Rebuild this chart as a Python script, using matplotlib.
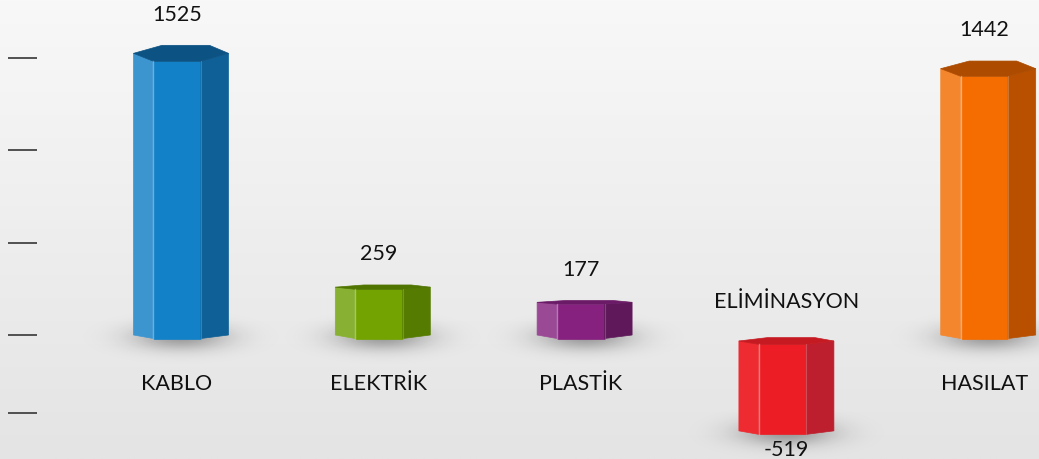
import numpy as np
import matplotlib
matplotlib.use("Agg")
import matplotlib.pyplot as plt
from matplotlib.patches import Polygon
from matplotlib.colors import to_rgb

# ---- data ----
categories = ["KABLO", "ELEKTRİK", "PLASTİK", "ELİMİNASYON", "HASILAT"]
values = [1525, 259, 177, -519, 1442]
value_labels = ["1525", "259", "177", "-519", "1442"]
ytick_values = [-420, 0, 500, 1000, 1500]

# ---- style ----
front_colors = ["#1281c7", "#72a300", "#86217f", "#ec1d25", "#f56c00"]
left_colors = ["#3d95d0", "#88b133", "#9a4a95", "#ee2b30", "#f4862e"]
right_colors = ["#0e6096", "#557b00", "#5f195b", "#bd1f2e", "#b85000"]
top_colors = ["#0c5283", "#4f7400", "#6a1a66", "#c61a22", "#ad4b00"]
FONT = "Lato"
FS = 15.5

W, H = 1039, 459
fig = plt.figure(figsize=(W / 100, H / 100), dpi=100)

# background gradient
bg = fig.add_axes([0, 0, 1, 1])
grad = np.linspace(0, 1, 256)[:, None]
c_top = np.array(to_rgb("#f8f8f8"))
c_bot = np.array(to_rgb("#e4e4e4"))
img = c_top[None, None, :] * (1 - grad[:, :, None]) + c_bot[None, None, :] * grad[:, :, None]
bg.imshow(np.repeat(img, 4, axis=1), aspect="auto", extent=[0, 1, 0, 1])
bg.set_axis_off()

left_px = 8
ax = fig.add_axes([left_px / W, 0, 1 - left_px / W, 1])
ax.patch.set_alpha(0)

px_per_unit_y = 0.1847
zero_px = 335
ymax = zero_px / px_per_unit_y
ymin = -(H - zero_px) / px_per_unit_y
x0_px, step_px = 181, 201.8
xmin = (left_px - x0_px) / step_px
xmax = (W - x0_px) / step_px
ax.set_xlim(xmin, xmax)
ax.set_ylim(ymin, ymax)

upx = 1 / px_per_unit_y          # data units per pixel (y)
xpx = 1 / step_px                # data units per pixel (x)
bw = 95 * xpx                    # bar width in x units
vmax = max(abs(v) for v in values)

# fractions across the bar width
f_fl, f_fr, f_bl, f_br = 0.21, 0.71, 0.30, 0.80

for i, v in enumerate(values):
    xl = i - bw / 2
    X = lambda f: xl + f * bw
    top = max(v, 0)
    bot = min(v, 0)
    if v < 0:
        top -= 6 * upx
    dt = (1 + 7 * abs(v) / vmax) * upx
    db = 3.5 * upx

    # shadow
    sx = np.linspace(-1, 1, 200)
    sy = np.linspace(-1, 1, 80)
    SX, SY = np.meshgrid(sx, sy)
    a = np.exp(-(SX ** 2) / (2 * 0.33 ** 2) - (SY ** 2) / (2 * 0.33 ** 2)) * 0.33
    shadow = np.zeros((80, 200, 4))
    shadow[..., 3] = a
    ycen = bot - 2 * upx
    ax.imshow(shadow, extent=[i - 100 * xpx, i + 100 * xpx, ycen - 28 * upx, ycen + 28 * upx],
              aspect="auto", zorder=1, interpolation="bilinear")

    # faces
    left_face = [(X(0), top), (X(f_fl), top - dt), (X(f_fl), bot - db), (X(0), bot)]
    front_face = [(X(f_fl), top - dt), (X(f_fr), top - dt), (X(f_fr), bot - db), (X(f_fl), bot - db)]
    right_face = [(X(f_fr), top - dt), (X(1), top), (X(1), bot), (X(f_fr), bot - db)]
    top_face = [(X(0), top), (X(f_fl), top - dt), (X(f_fr), top - dt), (X(1), top),
                (X(f_br), top + dt), (X(f_bl), top + dt)]
    for poly, col in [(left_face, left_colors[i]), (front_face, front_colors[i]),
                      (right_face, right_colors[i]), (top_face, top_colors[i])]:
        ax.add_patch(Polygon(poly, closed=True, facecolor=col, edgecolor=col, lw=0.5, zorder=3))
    # highlight edges
    ax.plot([X(f_fl), X(f_fl)], [top - dt, bot - db], color="white", alpha=0.35, lw=1.0, zorder=4)
    ax.plot([X(f_fr), X(f_fr)], [top - dt, bot - db], color="white", alpha=0.2, lw=0.8, zorder=4)

    # labels
    if v >= 0:
        ax.annotate(value_labels[i], (i - 0.02, top + dt), xytext=(0, 22), textcoords="offset points",
                    ha="center", va="center", fontsize=FS, family=FONT, color="#111111", zorder=5)
        ax.annotate(categories[i], (i - 0.02, 0), xytext=(0, -35), textcoords="offset points",
                    ha="center", va="center", fontsize=FS, family=FONT, color="#111111", zorder=5)
    else:
        ax.annotate(value_labels[i], (i, bot - db), xytext=(0, -11), textcoords="offset points",
                    ha="center", va="center", fontsize=FS, family=FONT, color="#111111", zorder=5)
        ax.annotate(categories[i], (i, 0), xytext=(0, 24), textcoords="offset points",
                    ha="center", va="center", fontsize=FS, family=FONT, color="#111111", zorder=5)

ax.set_yticks(ytick_values)
ax.set_yticklabels([])
ax.set_xticks([])
ax.tick_params(axis="y", direction="in", length=21, width=1.3, color="#444444", left=True)
for s in ax.spines.values():
    s.set_visible(False)

fig.savefig("out.png", dpi=100)
